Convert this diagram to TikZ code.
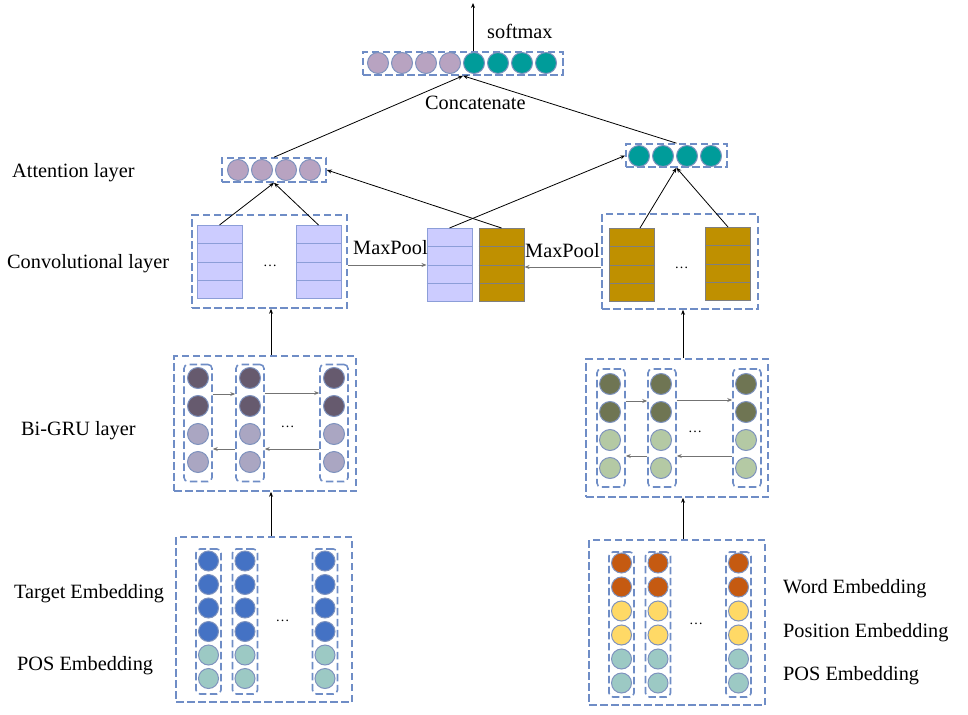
\documentclass[tikz,border=0pt]{standalone}
\usepackage{fontspec}
\setmainfont{Liberation Serif}
\usetikzlibrary{arrows.meta,calc}
\definecolor{dashc}{HTML}{6F8DC6}
\definecolor{circb}{HTML}{7E92BE}
\definecolor{mauve}{HTML}{B8A3C1}
\definecolor{tealc}{HTML}{009C9A}
\definecolor{gdark}{HTML}{665A6E}
\definecolor{glight}{HTML}{AAA6C2}
\definecolor{odark}{HTML}{6F7553}
\definecolor{olight}{HTML}{B4C9A4}
\definecolor{eblue}{HTML}{4472C4}
\definecolor{eteal}{HTML}{9CC9C4}
\definecolor{eorange}{HTML}{C55A11}
\definecolor{eyellow}{HTML}{FFD966}
\definecolor{lav}{HTML}{CCCCFF}
\definecolor{lavb}{HTML}{8C9ED8}
\definecolor{gold}{HTML}{BF9000}
\definecolor{goldb}{HTML}{7F7F7F}
\newcommand\cnnbar[4]{%
  \node[#4] (#1) at (#2,#3) {};
  \foreach \k in {1,2,3}
    \draw[line width=1pt, draw=#4b] ($(#1.north west)!\k/4!(#1.south west)$) -- ($(#1.north east)!\k/4!(#1.south east)$);
}
\begin{document}
\begin{tikzpicture}[x=1pt,y=-1pt,
  every node/.style={font=\fontsize{20.3}{23}\selectfont},
  dbox/.style={draw=dashc, line width=1.6pt, dash pattern=on 7.5pt off 3.5pt, rectangle, inner sep=0pt},
  cbox/.style={dbox, rounded corners=4pt},
  circ/.style={circle, draw=circb, line width=1pt, minimum size=21pt, inner sep=0pt},
  ecirc/.style={circ, minimum size=20pt},
  bar/.style={rectangle, inner sep=0pt, minimum width=45pt, minimum height=73pt, line width=1pt},
  lav/.style={bar, fill=lav, draw=lavb},
  gold/.style={bar, fill=gold, draw=goldb},
  arr/.style={-{Stealth[length=5pt,width=4pt]}, line width=0.8pt, black},
  garr/.style={-{Stealth[length=5pt,width=4pt]}, line width=0.8pt, black!55},
  lbl/.style={anchor=base west, inner sep=0pt},
  dots/.style={anchor=base, inner sep=0pt, font=\fontsize{14}{14}\selectfont}
]
\useasboundingbox (0,0) rectangle (968,714);

% ---------- boxes ----------
\node[dbox, minimum width=200pt, minimum height=23pt] (top) at (463,63.5) {};
\node[dbox, minimum width=104pt, minimum height=24pt] (latt) at (274,170) {};
\node[dbox, minimum width=101pt, minimum height=23pt] (ratt) at (676.5,155.5) {};
\node[dbox, minimum width=155pt, minimum height=93pt] (lconv) at (269.5,261.5) {};
\node[dbox, minimum width=156pt, minimum height=95pt] (rconv) at (680,261.5) {};
\node[dbox, minimum width=182pt, minimum height=135pt] (lgru) at (265,423.5) {};
\node[dbox, minimum width=182pt, minimum height=138pt] (rgru) at (677,428) {};
\node[dbox, minimum width=176pt, minimum height=165pt] (lemb) at (264,619.5) {};
\node[dbox, minimum width=176pt, minimum height=165pt] (remb) at (677,622.5) {};

% ---------- top row ----------
\foreach \i in {0,1,2,3} \node[circ, fill=mauve] (tc\i) at (378+24*\i,63) {};
\foreach \i in {4,5,6,7} \node[circ, fill=tealc] (tc\i) at (378+24*\i,63) {};

% ---------- attention ----------
\foreach \i in {0,1,2,3} \node[circ, fill=mauve] (la\i) at (238+24*\i,170) {};
\foreach \i in {0,1,2,3} \node[circ, fill=tealc] (ra\i) at (639+24*\i,156) {};

% ---------- conv bars ----------
\cnnbar{lb1}{219.5}{262}{lav}
\cnnbar{lb2}{318.5}{262}{lav}
\cnnbar{mpa}{449.5}{265}{lav}
\cnnbar{mpb}{501.5}{265}{gold}
\cnnbar{rb1}{632}{265}{gold}
\cnnbar{rb2}{728}{264}{gold}

% ---------- Bi-GRU left ----------
\foreach \cx [count=\c] in {198,250,334} {
  \node[cbox, minimum width=28pt, minimum height=117pt] (lg\c) at (\cx,423) {};
  \foreach \cy/\col [count=\r] in {378/gdark,406/gdark,434/glight,462/glight}
    \node[circ, fill=\col] (lgc\c\r) at (\cx,\cy) {};
}
% ---------- Bi-GRU right ----------
\foreach \cx [count=\c] in {611,662,747} {
  \node[cbox, minimum width=28pt, minimum height=118pt] (rg\c) at (\cx,428) {};
}
\foreach \cx [count=\c] in {610,661,746} {
  \foreach \cy/\col [count=\r] in {384/odark,412/odark,440/olight,468/olight}
    \node[circ, fill=\col] (rgc\c\r) at (\cx,\cy) {};
}

% ---------- Embedding left ----------
\foreach \cx [count=\c] in {208.5,245,325} {
  \node[cbox, minimum width=25pt, minimum height=145pt] (le\c) at (\cx,621.5) {};
  \foreach \cy/\col [count=\r] in {561/eblue,584.5/eblue,608/eblue,631.5/eblue,655/eteal,678.5/eteal}
    \node[ecirc, fill=\col] (lec\c\r) at (\cx,\cy) {};
}
% ---------- Embedding right ----------
\foreach \cx [count=\c] in {621.5,658,738.5} {
  \node[cbox, minimum width=25pt, minimum height=145pt] (re\c) at (\cx,624.5) {};
  \foreach \cy/\col [count=\r] in {563/eorange,587/eorange,611/eyellow,635/eyellow,659/eteal,683/eteal}
    \node[ecirc, fill=\col] (rec\c\r) at (\cx,\cy) {};
}

% ---------- dots ----------
\node[dots] (d1) at (270,266) {\dots};
\node[dots] (d2) at (681.5,268) {\dots};
\node[dots] (d3) at (287.5,427) {\dots};
\node[dots] (d4) at (695,432) {\dots};
\node[dots] (d5) at (282.5,621) {\dots};
\node[dots] (d6) at (696,624) {\dots};

% ---------- labels ----------
\node[lbl] (t1) at (12,178) {Attention layer};
\node[lbl] (t2) at (7,268) {Convolutional layer};
\node[lbl] (t3) at (21,435) {Bi-GRU layer};
\node[lbl] (t4) at (14,598) {Target Embedding};
\node[lbl] (t5) at (17,670) {POS Embedding};
\node[lbl] (t6) at (783,593) {Word Embedding};
\node[lbl] (t7) at (783,637) {Position Embedding};
\node[lbl] (t8) at (783,680) {POS Embedding};
\node[lbl] (t9) at (487,39) {softmax};
\node[lbl] (t10) at (425,110) {Concatenate};
\node[lbl] (t11) at (353,254) {MaxPool};
\node[lbl] (t12) at (525,257) {MaxPool};

% ---------- connectors ----------
\coordinate (out) at (473,3);
\draw[arr] (top.north -| out) -- (out);
\draw[arr] (latt.north) -- (top.south);
\draw[arr] (ratt.north) -- (top.south);
\draw[arr] (lb1.north) -- (latt.south);
\draw[arr] (lb2.north) -- (latt.south);
\draw[arr] ($(rb1.north)+(8,0)$) -- (ratt.south);
\draw[arr] (rb2.north) -- (ratt.south);
\draw[arr] (mpa.north) -- (ratt.west);
\draw[arr] (mpb.north) -- (latt.east);
\draw[garr] (lconv.east |- mpa) -- (mpa.west);
\draw[garr] (rconv.west |- 0,267) -- (mpb.east |- 0,267);
\coordinate (lx) at (271,0);
\coordinate (rx) at (683,0);
\draw[arr] (lgru.north -| lx) -- (lconv.south -| lx);
\draw[arr] (lemb.north -| lx) -- (lgru.south -| lx);
\draw[arr] (rgru.north -| rx) -- (rconv.south -| rx);
\draw[arr] (remb.north -| rx) -- (rgru.south -| rx);
% GRU recurrent arrows
\draw[garr] (lg1.east |- 0,394) -- (lg2.west |- 0,394);
\draw[garr] (lg2.east |- 0,393) -- (lg3.west |- 0,393);
\draw[garr] (lg2.west |- 0,449) -- (lg1.east |- 0,449);
\draw[garr] (lg3.west |- 0,449) -- (lg2.east |- 0,449);
\draw[garr] (rg1.east |- 0,401) -- (rg2.west |- 0,401);
\draw[garr] (rg2.east |- 0,400) -- (rg3.west |- 0,400);
\draw[garr] (rg2.west |- 0,456) -- (rg1.east |- 0,456);
\draw[garr] (rg3.west |- 0,456) -- (rg2.east |- 0,456);
\end{tikzpicture}
\end{document}
